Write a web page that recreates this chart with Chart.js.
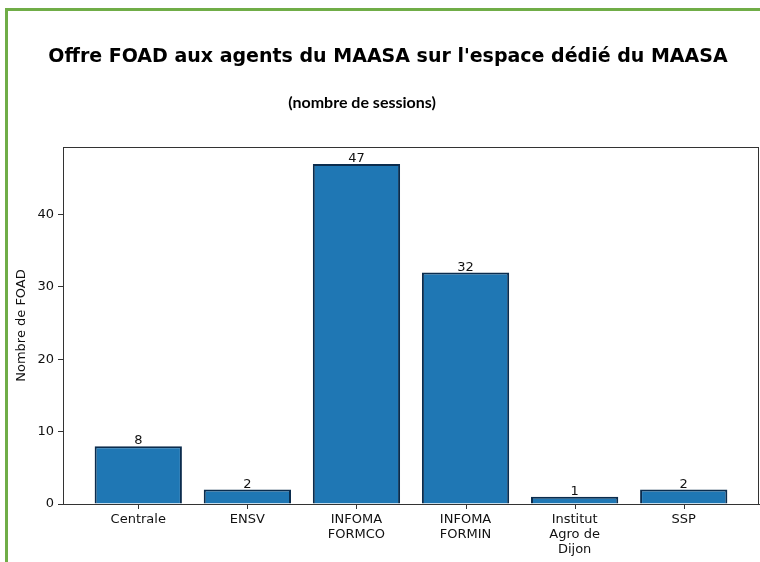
<!DOCTYPE html>
<html><head><meta charset="utf-8">
<script src="https://cdn.jsdelivr.net/npm/chart.js@4"></script>
<style>html,body{margin:0;padding:0;background:#fff;}#wrap{width:760px;height:562px;position:relative}</style>
</head><body><div id="wrap"><canvas id="c" width="760" height="562"></canvas></div>
<script>
const titleText = "Offre FOAD aux agents du MAASA sur l'espace dédié du MAASA";
const subtitleText = "(nombre de sessions)";
const yAxisTitle = "Nombre de FOAD";
const categories = [["Centrale"], ["ENSV"], ["INFOMA", "FORMCO"], ["INFOMA", "FORMIN"], ["Institut", "Agro de", "Dijon"], ["SSP"]];
const sessions = [8, 2, 47, 32, 1, 2];
const yTicks = [0, 10, 20, 30, 40];
const yMax = 49.35;

const decor = {
  id: 'decor',
  afterDraw(chart) {
    const ctx = chart.ctx, a = chart.chartArea;
    ctx.save();
    ctx.strokeStyle = '#333';
    ctx.lineWidth = 1;
    ctx.strokeRect(Math.round(a.left) + 0.5, Math.round(a.top) + 0.5, Math.round(a.right - a.left) - 1, Math.round(a.bottom - a.top));
    // x tick marks
    const xs = chart.scales.x;
    ctx.beginPath();
    categories.forEach((c, i) => {
      const px = Math.round(xs.getPixelForValue(i)) + 0.5;
      ctx.moveTo(px, Math.round(a.bottom));
      ctx.lineTo(px, Math.round(a.bottom) + 5);
    });
    ctx.stroke();
    const meta = chart.getDatasetMeta(0);
    ctx.fillStyle = '#111';
    ctx.font = '13px "DejaVu Sans"';
    ctx.textAlign = 'center';
    ctx.textBaseline = 'alphabetic';
    meta.data.forEach((bar, i) => {
      ctx.fillText(String(sessions[i]), bar.x, bar.y - 2);
    });
    ctx.fillStyle = '#000';
    ctx.font = 'bold 19px "DejaVu Sans"';
    ctx.textBaseline = 'middle';
    ctx.fillText(titleText, 388, 57);
    ctx.font = 'bold 16px Lato';
    ctx.fillText(subtitleText, 362, 103);
    ctx.fillStyle = '#70ad47';
    ctx.fillRect(5, 8, 755, 3);
    ctx.fillRect(5, 8, 3, 554);
    ctx.restore();
  }
};

new Chart(document.getElementById('c'), {
  type: 'bar',
  data: {
    datasets: [{
      data: sessions.map((v, i) => ({ x: i, y: v })),
      backgroundColor: '#1f77b4',
      borderColor: '#0b2c4d',
      borderWidth: 2,
      barPercentage: 0.8,
      categoryPercentage: 1
    }]
  },
  options: {
    responsive: false,
    animation: false,
    devicePixelRatio: 1,
    layout: { padding: { top: 147, left: 0, right: 1, bottom: 0 } },
    plugins: { legend: { display: false }, tooltip: { enabled: false } },
    scales: {
      x: {
        type: 'linear', min: -0.69, max: 5.69, offset: false,
        afterBuildTicks: s => { s.ticks = categories.map((c, i) => ({ value: i })); },
        afterFit: s => { s.height = 58; },
        ticks: {
          callback: v => categories[v],
          font: { family: 'DejaVu Sans', size: 13, lineHeight: 1.15 },
          color: '#111', padding: 3, maxRotation: 0, autoSkip: false
        },
        grid: { display: true, offset: false, drawOnChartArea: false, drawTicks: true, tickLength: 5, color: 'rgba(0,0,0,0)' },
        border: { display: true, color: '#333' }
      },
      y: {
        min: 0, max: yMax,
        afterBuildTicks: s => { s.ticks = yTicks.map(v => ({ value: v })); },
        afterFit: s => { s.width = 63; },
        ticks: { font: { family: 'DejaVu Sans', size: 13 }, color: '#111', padding: 4 },
        grid: { display: true, drawOnChartArea: false, drawTicks: true, tickLength: 5, color: '#333' },
        border: { display: true, color: '#333' },
        title: { display: true, text: yAxisTitle, font: { family: 'DejaVu Sans', size: 13 }, color: '#111', padding: { top: 14, bottom: 0 } }
      }
    }
  },
  plugins: [decor]
});
</script>
</body></html>
